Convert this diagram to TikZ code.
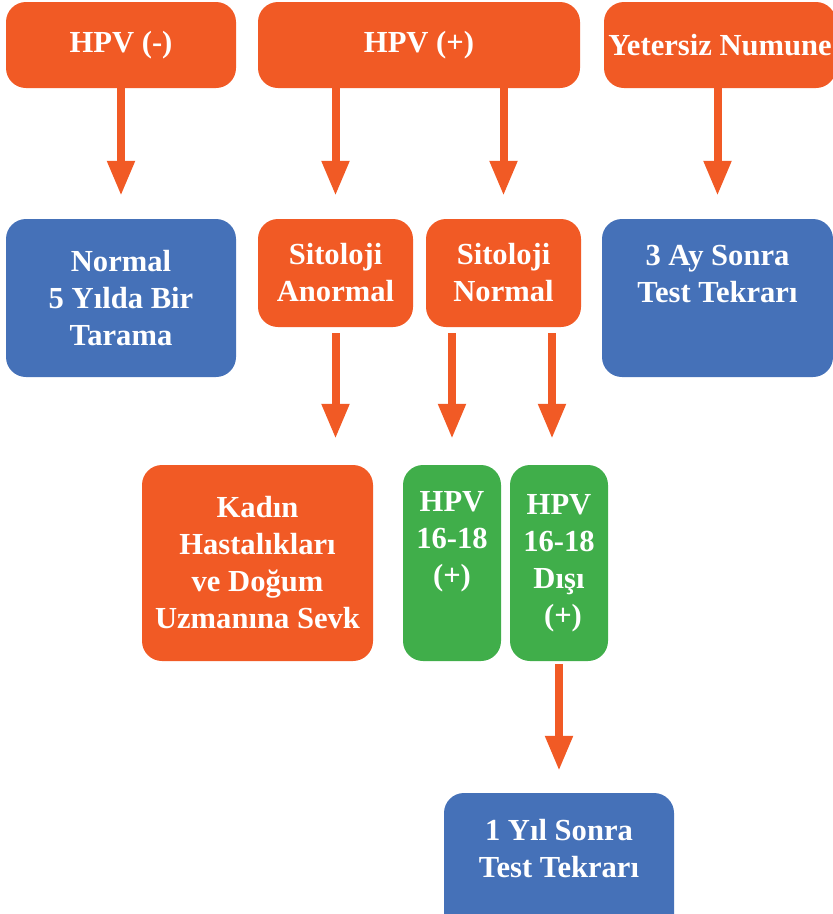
\documentclass[tikz,border=0pt]{standalone}
\usepackage{fontspec}
\setmainfont{Liberation Serif}
\usetikzlibrary{arrows.meta}
\definecolor{hpvorange}{HTML}{F15A25}
\definecolor{hpvblue}{HTML}{4571B8}
\definecolor{hpvgreen}{HTML}{40AE4A}
\begin{document}
\begin{tikzpicture}[x=1pt,y=-1pt,
  box/.style={rounded corners=20pt, inner sep=0pt, text=white, align=center,
    font=\fontsize{30.6}{37}\selectfont\bfseries},
  obox/.style={box, fill=hpvorange},
  bbox/.style={box, fill=hpvblue},
  gbox/.style={box, fill=hpvgreen},
  arr/.style={draw=hpvorange, line width=8pt, -{Triangle[width=26pt,length=35pt]}}]
\useasboundingbox (0,0) rectangle (833,914);
\clip (0,0) rectangle (833,914);
\node[obox, minimum width=230pt, minimum height=86pt] (hneg) at (121,45) {HPV (-)};
\node[obox, minimum width=322pt, minimum height=86pt] (hpos) at (419,45) {HPV (+)};
\node[obox, minimum width=232pt, minimum height=86pt] (yet) at (720,45) {Yetersiz Numune};
\node[bbox, minimum width=230pt, minimum height=158pt] (norm) at (121,298) {Normal\\5 Yılda Bir\\Tarama};
\node[obox, minimum width=155pt, minimum height=108pt] (anorm) at (335.5,273) {Sitoloji\\Anormal};
\node[obox, minimum width=155pt, minimum height=108pt] (snorm) at (503.5,273) {Sitoloji\\Normal};
\node[bbox, minimum width=231pt, minimum height=158pt] (ay3) at (717.5,298) {3 Ay Sonra\\Test Tekrarı\\\strut};
\node[obox, minimum width=231pt, minimum height=196pt] (kadin) at (257.5,563) {Kadın\\Hastalıkları\\ve Doğum\\Uzmanına Sevk};
\node[gbox, minimum width=98pt, minimum height=196pt] (g1) at (452,563) {HPV\\16-18\\(+)\\\strut};
\node[gbox, minimum width=98pt, minimum height=196pt] (g2) at (559,563) {HPV\\16-18\\Dışı\\\hspace*{8pt}(+)};
\node[bbox, minimum width=230pt, minimum height=158pt] (yil) at (559,872) {1 Yıl Sonra\\Test Tekrarı\\\strut};
\coordinate (c2) at (552,0);
\draw[arr, shorten >=23pt] (hneg.south) -- (norm.north);
\draw[arr, shorten >=23pt] (hpos.south -| anorm.north) -- (anorm.north);
\draw[arr, shorten >=23pt] (hpos.south -| snorm.north) -- (snorm.north);
\draw[arr, shorten >=23pt] (yet.south -| ay3.north) -- (ay3.north);
\draw[arr, shorten <=6pt, shorten >=26pt] (anorm.south) -- (anorm.south |- kadin.north);
\draw[arr, shorten <=6pt, shorten >=26pt] (snorm.south -| g1.north) -- (g1.north);
\draw[arr, shorten <=6pt, shorten >=26pt] (snorm.south -| c2) -- (g2.north -| c2);
\draw[arr, shorten <=3pt, shorten >=22pt] (g2.south) -- (yil.north);
\end{tikzpicture}
\end{document}
